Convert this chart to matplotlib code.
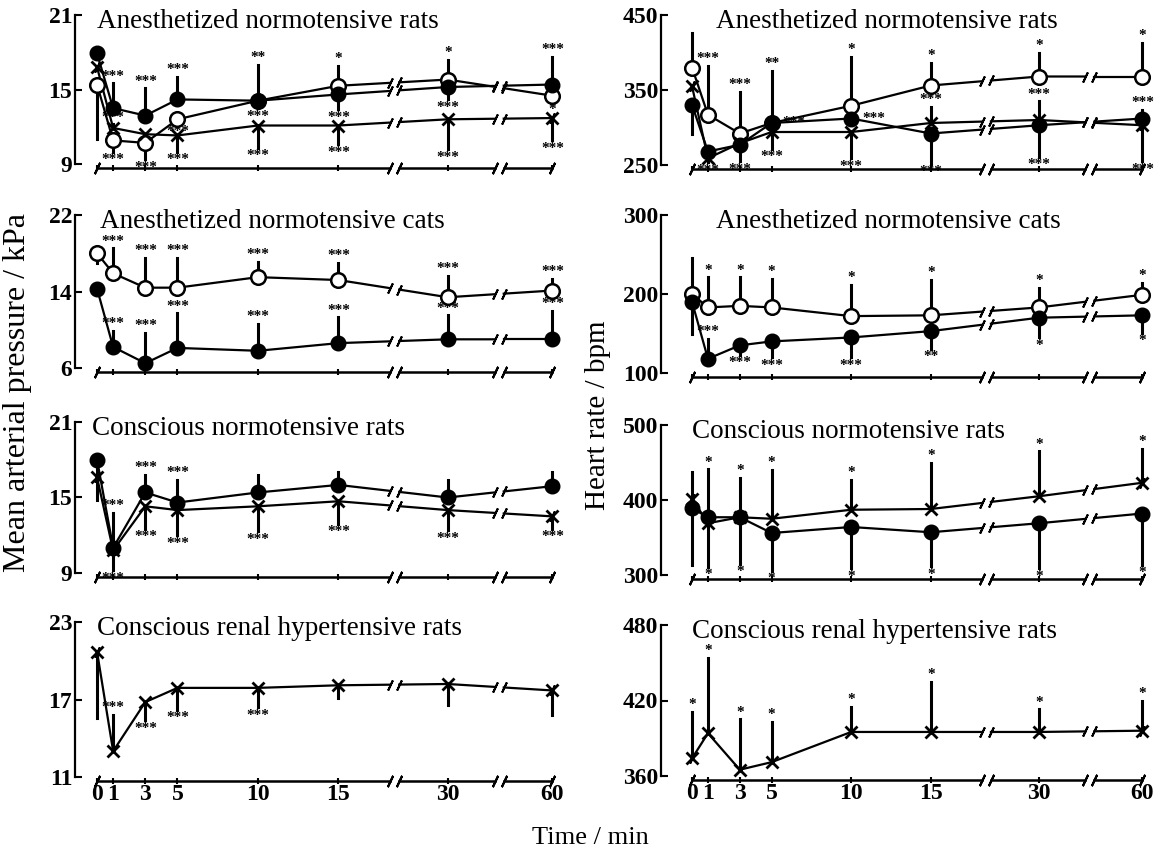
import numpy as np
import matplotlib
matplotlib.use("Agg")
import matplotlib.pyplot as plt
from matplotlib.transforms import blended_transform_factory

plt.rcParams['font.family'] = ['Liberation Serif', 'DejaVu Serif']

# ---------------- data ----------------
times = [0, 1, 3, 5, 10, 15, 30, 60]
time_labels = ['0', '1', '3', '5', '10', '15', '30', '60']

titles = ['Anesthetized normotensive rats', 'Anesthetized normotensive cats',
          'Conscious normotensive rats', 'Conscious renal hypertensive rats']

map_yticks = [[9, 15, 21], [6, 14, 22], [9, 15, 21], [11, 17, 23]]
hr_yticks = [[250, 350, 450], [100, 200, 300], [300, 400, 500], [360, 420, 480]]

# Anesthetized normotensive rats - MAP (kPa)
ar_map_open = [15.4, 10.9, 10.7, 12.6, 14.1, 15.3, 15.8, 14.5]
ar_map_open_err = [-4.4, -0.9, -1.3, -0.3, 2.9, 1.6, 1.6, -0.5]
ar_map_open_sig = ['', '***', '***', '***', '**', '*', '*', '*']
ar_map_filled = [17.9, 13.5, 12.9, 14.2, 14.1, 14.6, 15.2, 15.4]
ar_map_filled_err = [0, 2.0, 2.2, 1.8, -0.6, -1.2, -1.0, 2.2]
ar_map_filled_sig = ['', '***', '***', '***', '***', '***', '***', '***']
ar_map_cross = [16.8, 11.9, 11.4, 11.3, 12.1, 12.1, 12.6, 12.7]
ar_map_cross_err = [0, 0.3, 0, -1.3, -1.8, -1.5, -2.4, -1.8]
ar_map_cross_sig = ['', '***', '', '***', '***', '***', '***', '***']

# Anesthetized normotensive rats - heart rate (bpm)
ar_hr_open = [380, 317, 292, 306, 329, 356, 368, 368]
ar_hr_open_err = [46, 65, 55, 0, 65, 30, 32, 45]
ar_hr_open_sig = ['', '***', '***', '***', '*', '*', '*', '*']
ar_hr_filled = [330, 268, 277, 306, 312, 292, 303, 312]
ar_hr_filled_err = [-38, 0, -22, 70, 0, -40, -42, 12]
ar_hr_filled_sig = ['', '', '***', '**', '***', '***', '***', '***']
ar_hr_cross = [355, 259, 279, 294, 294, 306, 310, 303]
ar_hr_cross_err = [0, -5, 0, -22, -35, 22, 25, -48]
ar_hr_cross_sig = ['', '***', '', '***', '***', '***', '***', '***']

# Anesthetized normotensive cats - MAP
ac_map_open = [18.0, 15.9, 14.4, 14.4, 15.5, 15.2, 13.4, 14.1]
ac_map_open_err = [-1.0, 2.6, 3.1, 3.1, 1.6, 1.8, 2.2, 1.2]
ac_map_open_sig = ['', '***', '***', '***', '***', '***', '***', '***']
ac_map_filled = [14.3, 8.2, 6.5, 8.1, 7.8, 8.6, 9.0, 9.0]
ac_map_filled_err = [0, 1.7, 3.2, 3.6, 2.8, 2.7, 2.5, 3.0]
ac_map_filled_sig = ['', '***', '***', '***', '***', '***', '***', '***']

# Anesthetized normotensive cats - heart rate
ac_hr_open = [200, 183, 185, 183, 172, 173, 183, 199]
ac_hr_open_err = [45, 38, 36, 36, 40, 45, 25, 15]
ac_hr_open_sig = ['', '*', '*', '*', '*', '*', '*', '*']
ac_hr_filled = [190, 118, 135, 140, 145, 153, 170, 173]
ac_hr_filled_err = [-40, 25, -12, -20, -25, -22, -25, -22]
ac_hr_filled_sig = ['', '***', '***', '***', '***', '**', '*', '*']

# Conscious normotensive rats - MAP
cr_map_filled = [18.0, 11.0, 15.4, 14.6, 15.4, 16.0, 15.0, 15.9]
cr_map_filled_err = [-3.2, -1.8, 1.4, 1.8, 1.4, 1.0, 1.4, 1.1]
cr_map_filled_sig = ['', '***', '***', '***', '', '', '', '']
cr_map_cross = [16.6, 10.8, 14.3, 14.0, 14.3, 14.7, 14.0, 13.5]
cr_map_cross_err = [0, 3.0, -1.8, -2.0, -2.0, -1.8, -1.6, -1.0]
cr_map_cross_sig = ['', '***', '***', '***', '***', '***', '***', '***']

# Conscious normotensive rats - heart rate
cr_hr_cross = [402, 369, 377, 375, 387, 388, 405, 423]
cr_hr_cross_err = [35, 72, 52, 65, 40, 62, 60, 45]
cr_hr_cross_sig = ['', '*', '*', '*', '*', '*', '*', '*']
cr_hr_filled = [389, 377, 377, 356, 364, 357, 369, 382]
cr_hr_filled_err = [-75, -66, -62, -50, -55, -45, -60, -68]
cr_hr_filled_sig = ['', '*', '*', '*', '*', '*', '*', '*']

# Conscious renal hypertensive rats - MAP
hr_map_cross = [20.7, 13.0, 16.8, 17.9, 17.9, 18.1, 18.2, 17.7]
hr_map_cross_err = [-5.1, 2.8, -1.4, -1.7, -1.5, -1.0, -1.6, -1.9]
hr_map_cross_sig = ['', '***', '***', '***', '***', '', '', '']

# Conscious renal hypertensive rats - heart rate
hr_hr_cross = [374, 394, 365, 371, 395, 395, 395, 396]
hr_hr_cross_err = [37, 60, 40, 32, 20, 40, 18, 24]
hr_hr_cross_sig = ['*', '*', '*', '*', '*', '*', '*', '*']

panels_left = [
    [('open', ar_map_open, ar_map_open_err, ar_map_open_sig),
     ('filled', ar_map_filled, ar_map_filled_err, ar_map_filled_sig),
     ('cross', ar_map_cross, ar_map_cross_err, ar_map_cross_sig)],
    [('open', ac_map_open, ac_map_open_err, ac_map_open_sig),
     ('filled', ac_map_filled, ac_map_filled_err, ac_map_filled_sig)],
    [('filled', cr_map_filled, cr_map_filled_err, cr_map_filled_sig),
     ('cross', cr_map_cross, cr_map_cross_err, cr_map_cross_sig)],
    [('cross', hr_map_cross, hr_map_cross_err, hr_map_cross_sig)],
]
panels_right = [
    [('open', ar_hr_open, ar_hr_open_err, ar_hr_open_sig),
     ('filled', ar_hr_filled, ar_hr_filled_err, ar_hr_filled_sig),
     ('cross', ar_hr_cross, ar_hr_cross_err, ar_hr_cross_sig)],
    [('open', ac_hr_open, ac_hr_open_err, ac_hr_open_sig),
     ('filled', ac_hr_filled, ac_hr_filled_err, ac_hr_filled_sig)],
    [('cross', cr_hr_cross, cr_hr_cross_err, cr_hr_cross_sig),
     ('filled', cr_hr_filled, cr_hr_filled_err, cr_hr_filled_sig)],
    [('cross', hr_hr_cross, hr_hr_cross_err, hr_hr_cross_sig)],
]

# ---------------- layout ----------------
W, H = 1176, 851
fig = plt.figure(figsize=(W / 100, H / 100), dpi=100)

# broken time axis: 0-15 linear, then 30 and 60 after breaks
BREAK_POS = {30: 21.8, 60: 28.3}
BREAKS = [18.5, 25.0]
GAP = 0.28


def tpos(t):
    return float(t) if t <= 15 else BREAK_POS[t]


xpos = np.array([tpos(t) for t in times])
XEND = xpos[-1]

left_rows = [(15, 164), (215, 368), (422, 573), (622, 777)]
right_rows = [(15, 165), (215, 373), (425, 575), (625, 776)]
col_specs = [
    dict(left=75, right=562, xmin=-1.37, rows=left_rows, yticks=map_yticks,
         panels=panels_left, title_dx=[0.0, 0.2, -0.3, 0.0]),
    dict(left=661, right=1152, xmin=-1.95, rows=right_rows, yticks=hr_yticks,
         panels=panels_right, title_dx=[1.5, 1.5, 0.0, 0.0]),
]

styles = {
    'open': dict(marker='o', ms=10.5, mfc='white', mec='black', mew=1.8),
    'filled': dict(marker='o', ms=10.5, mfc='black', mec='black', mew=1.0),
    'cross': dict(marker='x', ms=9, mfc='black', mec='black', mew=2.0),
}


def segments(xs, ys):
    """Split a series line at the axis breaks."""
    xs = np.asarray(xs, float)
    ys = np.asarray(ys, float)
    edges = [xs[0]]
    for b in BREAKS:
        edges += [b - GAP, b + GAP]
    edges.append(xs[-1])
    segs = []
    for a, b in zip(edges[0::2], edges[1::2]):
        inner = xs[(xs > a) & (xs < b)]
        sx = np.concatenate([[a], inner, [b]])
        sy = np.interp(sx, xs, ys)
        segs.append((sx, sy))
    return segs


for col in col_specs:
    for r, (top_px, bot_px) in enumerate(col['rows']):
        ax = fig.add_axes([col['left'] / W, 1 - bot_px / H,
                           (col['right'] - col['left']) / W, (bot_px - top_px) / H])
        lo, mid, hi = col['yticks'][r]
        ax.set_xlim(col['xmin'], 28.9)
        ax.set_ylim(lo, hi)
        for s in ['top', 'right', 'bottom']:
            ax.spines[s].set_visible(False)
        ax.spines['left'].set_linewidth(1.6)
        ax.set_yticks([lo, mid, hi])
        ax.set_yticklabels([str(lo), str(mid), str(hi)], fontsize=17,
                           fontweight='bold')
        ax.tick_params(axis='y', direction='in', length=5, width=1.5, pad=2)
        ax.set_xticks([])

        tr = blended_transform_factory(ax.transData, ax.transAxes)
        ax_h = bot_px - top_px
        yb = -4.0 / ax_h
        # x axis line with breaks
        for sx, sy in segments([0, XEND], [yb, yb]):
            ax.plot(sx, sy, color='black', lw=1.8, transform=tr, clip_on=False)
            ax.plot(sx, sy, ls='none', marker=(2, 2, -25), ms=9, mew=1.5,
                    color='black', transform=tr, clip_on=False)
        ax.plot(xpos, [yb] * len(xpos), ls='none', marker='|', ms=4, mew=1.5,
                color='black', transform=tr, clip_on=False)
        if r == 3:
            for xp, lab in zip(xpos, time_labels):
                ax.text(xp, yb - 0.02, lab, transform=tr, ha='center', va='top',
                        fontsize=17, fontweight='bold')

        # title
        ax.text(0 + col['title_dx'][r], 1.04, titles[r], transform=tr,
                ha='left', va='top', fontsize=19.5)

        yr = hi - lo
        for kind, vals, errs, sigs in col['panels'][r]:
            for sx, sy in segments(xpos, vals):
                ax.plot(sx, sy, color='black', lw=1.6, zorder=2)
                ax.plot(sx[-1:], sy[-1:], ls='none', marker=(2, 2, -25), ms=8,
                        mew=1.4, color='black', zorder=2)
                ax.plot(sx[:1], sy[:1], ls='none', marker=(2, 2, -25), ms=8,
                        mew=1.4, color='black', zorder=2)
            for xp, v, e, sg in zip(xpos, vals, errs, sigs):
                if e != 0:
                    ax.plot([xp, xp], [v, v + e], color='black', lw=2.2,
                            zorder=3, clip_on=False)
                if sg:
                    if e > 0:
                        ax.text(xp, v + e + 0.005 * yr, sg, ha='center',
                                va='bottom', fontsize=11, fontweight='bold',
                                clip_on=False)
                    elif e < 0:
                        ax.text(xp, v + e - 0.01 * yr, sg, ha='center',
                                va='top', fontsize=11, fontweight='bold',
                                clip_on=False)
                    else:
                        ax.text(xp + 0.7, v, sg, ha='left', va='center',
                                fontsize=11, fontweight='bold', clip_on=False)
            ax.plot(xpos, vals, ls='none', zorder=4, clip_on=False,
                    **styles[kind])

# axis labels
fig.text(18 / W, 1 - 392 / H, 'Mean arterial pressure / kPa', rotation=90,
         ha='center', va='center', fontsize=23)
fig.text(598 / W, 1 - 415 / H, 'Heart rate / bpm', rotation=90,
         ha='center', va='center', fontsize=21)
fig.text(590 / W, 1 - 838 / H, 'Time / min', ha='center', va='center',
         fontsize=19)

fig.savefig('out.png', dpi=100, facecolor='white')
